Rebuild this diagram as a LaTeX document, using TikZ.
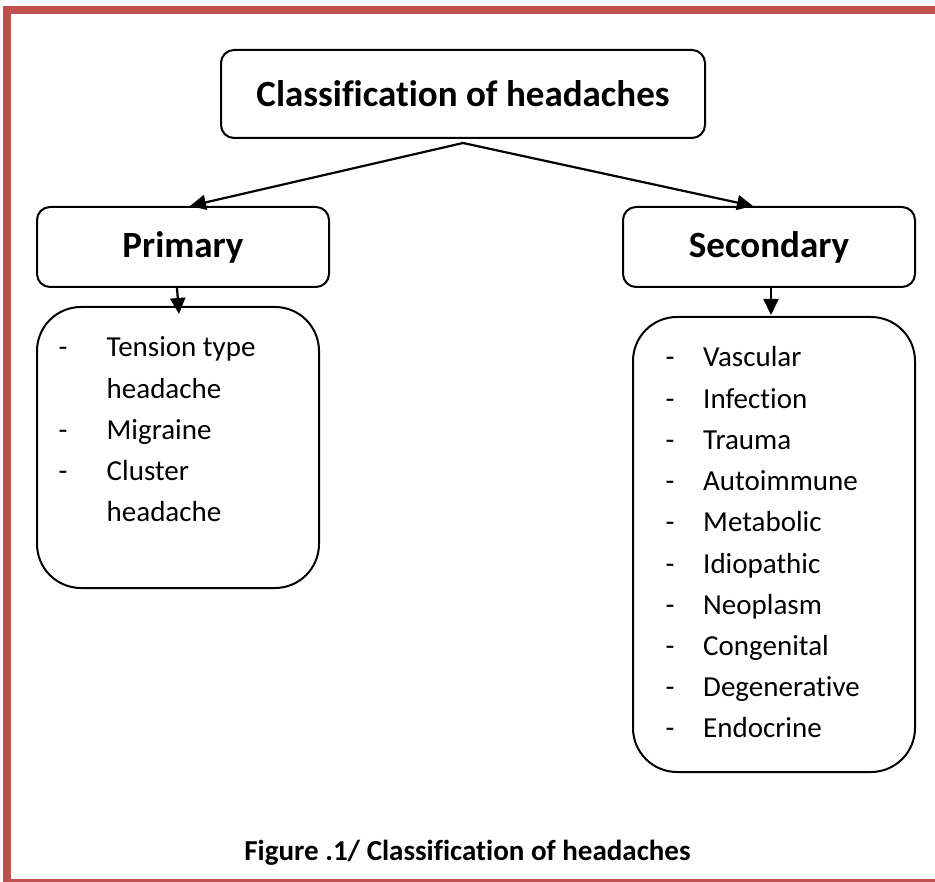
\documentclass[tikz,border=0pt]{standalone}
\usepackage{fontspec}
\setmainfont{Carlito}[Ligatures={NoCommon}]
\usetikzlibrary{arrows.meta}
\definecolor{framered}{HTML}{C0504D}

\begin{document}
\begin{tikzpicture}[x=1pt,y=-1pt,
  box/.style={draw, line width=2pt, rounded corners=13pt, inner sep=0pt,
    align=center, font=\bfseries\fontsize{37}{44}\selectfont},
  listbox/.style={draw, line width=2pt, rounded corners=44pt, inner sep=0pt},
  link/.style={line width=2.2pt, -{Triangle[length=16pt,width=15pt]}},
  item/.style={anchor=base west, inner sep=0pt, font=\fontsize{29}{35}\selectfont},
]
\useasboundingbox (0,0) rectangle (935,882);

% page frame
\fill[framered] (3,6) rectangle (935,14);
\fill[framered] (3,6) rectangle (11,882);
\fill[framered] (3,879) rectangle (935,882);

% headings
\node[box, minimum width=484pt, minimum height=88pt] (title) at (463,94) {Classification of headaches};
\node[box, minimum width=292pt, minimum height=80pt] (prim) at (183,247) {Primary};
\node[box, minimum width=292pt, minimum height=80pt] (sec) at (769,247) {Secondary};

% list containers
\node[listbox, minimum width=282pt, minimum height=281pt] (plist) at (178,447.5) {};
\node[listbox, minimum width=282pt, minimum height=455pt] (slist) at (774,544.5) {};

% connectors
\coordinate (fork) at ([yshift=-4pt]title.south);
\draw[link] (fork) -- ([xshift=7pt]prim.north);
\draw[link] (fork) -- ([xshift=-16pt]sec.north);
\draw[link] ([xshift=-6pt]prim.south) -- ([xshift=1pt,yshift=-8pt]plist.north);
\draw[link] ([xshift=2pt]sec.south) -- ([xshift=-3pt,yshift=1pt]slist.north);

% primary headaches
\foreach \txt/\y/\d [count=\i] in {Tension type/357/1, headache/398.2/0,
    Migraine/439.4/1, Cluster/480.6/1, headache/521.8/0} {
  \node[item] (pt\i) at (106.5,\y) {\txt};
  \ifnum\d=1 \node[item] (pd\i) at (58.5,\y) {-};\fi
}

% secondary headaches
\foreach \txt [count=\i] in {Vascular, Infection, Trauma, Autoimmune, Metabolic,
    Idiopathic, Neoplasm, Congenital, Degenerative, Endocrine} {
  \node[item] (st\i) at (703,{367+41.2*(\i-1)}) {\txt};
  \node[item] (sd\i) at (665.5,{367+41.2*(\i-1)}) {-};
}

% caption
\node[anchor=base, inner sep=0pt, font=\bfseries\fontsize{29}{35}\selectfont] (cap)
  at (467.5,860) {Figure .1/ Classification of headaches};
\end{tikzpicture}
\end{document}
